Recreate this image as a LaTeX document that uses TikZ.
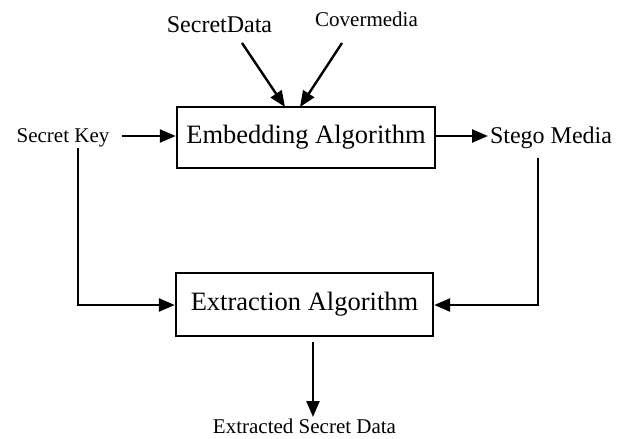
\documentclass[tikz,border=0pt]{standalone}
\usepackage{fontspec}
\setmainfont{Liberation Serif}
\usetikzlibrary{arrows.meta}
\tikzset{
  algbox/.style={draw, line width=2.4pt, rectangle, inner sep=0pt,
    font=\fontsize{26.5}{30}\selectfont},
  biglabel/.style={inner sep=0pt, anchor=base, font=\fontsize{24}{28}\selectfont},
  smalllabel/.style={inner sep=0pt, anchor=base, font=\fontsize{21}{25}\selectfont},
  flow/.style={line width=2.4pt, -{Triangle[length=16pt,width=13pt]}},
  wire/.style={line width=2.4pt}
}
\begin{document}
\begin{tikzpicture}[x=1pt,y=-1pt]
  \useasboundingbox (0,0) rectangle (625,439);

  % processing blocks
  \node[algbox, minimum width=258pt, minimum height=61pt] (emb) at (306,137.5) {Embedding Algorithm};
  \node[algbox, minimum width=257pt, minimum height=63pt] (ext) at (304.5,304.5) {Extraction Algorithm};

  % inputs and outputs
  \node[biglabel]   (sdata) at (219.5,32)  {SecretData};
  \node[smalllabel] (cover) at (366.5,27)  {Covermedia};
  \node[smalllabel] (skey)  at (63,142)    {Secret Key};
  \node[biglabel]   (stego) at (551,143)   {Stego Media};
  \node[smalllabel] (out)   at (304.5,433) {Extracted Secret Data};

  % connector end points
  \coordinate (sdTail) at (242,43);
  \coordinate (sdHead) at (285,107);
  \coordinate (cvTail) at (342,43);
  \coordinate (cvHead) at (300,107);
  \coordinate (skTail) at (122,136);
  \coordinate (skDown) at (78,148);
  \coordinate (skCorner) at (78,305);
  \coordinate (stHead) at (488,136);
  \coordinate (stDown) at (538,158);
  \coordinate (stCorner) at (538,305);
  \coordinate (exTail) at (313,342);
  \coordinate (exHead) at (313,417);

  % embedding stage
  \draw[flow] (sdTail) -- (sdHead);
  \draw[flow] (cvTail) -- (cvHead);
  \draw[flow] (skTail) -- (emb.west |- skTail);
  \draw[flow] (emb.east |- stHead) -- (stHead);

  % extraction stage
  \draw[flow] (skDown) -- (skCorner) -- (ext.west |- skCorner);
  \draw[flow] (stDown) -- (stCorner) -- (ext.east |- stCorner);
  \draw[flow] (exTail) -- (exHead);
\end{tikzpicture}
\end{document}
